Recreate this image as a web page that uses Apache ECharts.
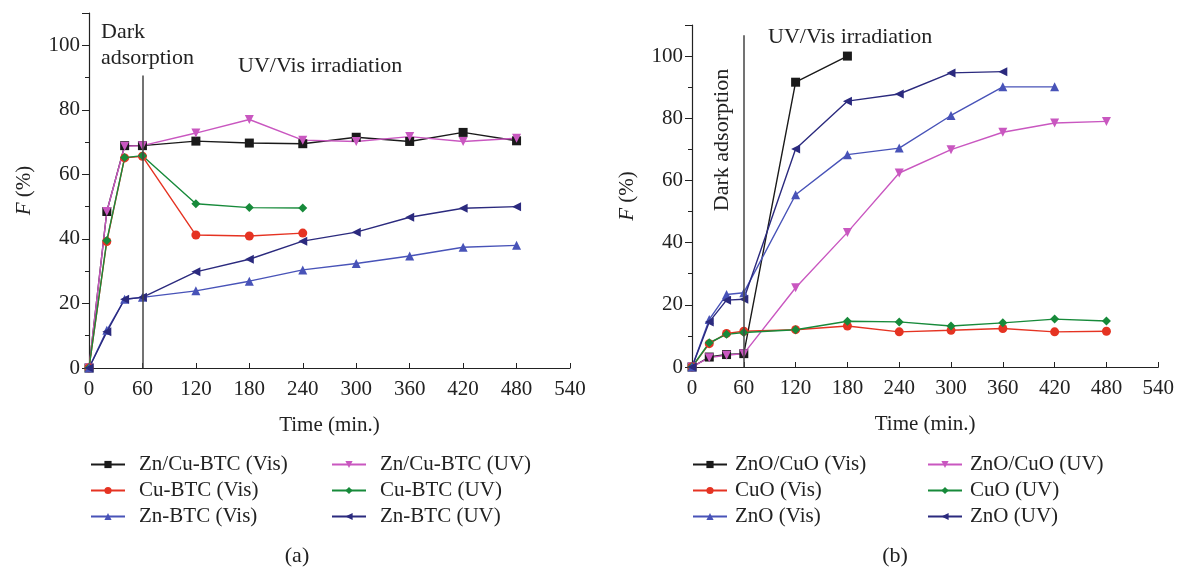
<!DOCTYPE html>
<html>
<head>
<meta charset="utf-8">
<title>Degradation efficiency vs time</title>
<script src="https://cdn.jsdelivr.net/npm/echarts@6/dist/echarts.min.js"></script>
<style>
  html, body { margin: 0; padding: 0; background: #fff; }
  #chart { width: 1177px; height: 567px; }
</style>
</head>
<body>
<div id="chart"></div>
<script>
// Sampling times (min.)
const times = [0, 20, 40, 60, 120, 180, 240, 300, 360, 420, 480];
const xTicks = [0, 60, 120, 180, 240, 300, 360, 420, 480, 540];

// Panel (a): MOF photocatalysts, F (%)
const znCuBtcVis = [0, 48.5, 68.9, 68.9, 70.3, 69.7, 69.5, 71.5, 70.2, 73.0, 70.4];
const znCuBtcUV  = [0, 48.5, 68.7, 68.9, 72.8, 77.0, 70.6, 70.2, 71.7, 70.2, 71.2];
const cuBtcVis   = [0, 39.2, 65.1, 65.6, 41.2, 40.9, 41.8];
const cuBtcUV    = [0, 39.5, 65.2, 65.8, 50.9, 49.7, 49.6];
const znBtcVis   = [0, 11.7, 21.3, 21.9, 23.9, 26.9, 30.4, 32.4, 34.7, 37.4, 38.0];
const znBtcUV    = [0, 11.2, 21.3, 21.9, 29.8, 33.7, 39.3, 42.1, 46.7, 49.5, 50.0];

// Panel (b): oxide photocatalysts, F (%)
const znoCuoVis = [0, 3.2, 4.0, 4.3, 91.6, 100];
const znoCuoUV  = [0, 3.0, 3.8, 4.3, 25.5, 43.3, 62.4, 69.9, 75.5, 78.5, 79.0];
const cuoVis    = [0, 7.5, 10.8, 11.5, 12.0, 13.2, 11.3, 11.8, 12.4, 11.3, 11.5];
const cuoUV     = [0, 7.8, 10.5, 11.1, 12.0, 14.7, 14.5, 13.2, 14.2, 15.4, 14.8];
const znoVis    = [0, 15.3, 23.3, 23.9, 55.4, 68.3, 70.4, 80.9, 90.1, 90.1];
const znoUV     = [0, 14.5, 21.5, 21.8, 70.1, 85.5, 87.8, 94.6, 95.0];

// End of the dark-adsorption period and the marker line heights
const darkEnd = 60;
const darkLineTopA = 90.6;
const darkLineTopB = 106.7;

const serif = '"Liberation Serif", "DejaVu Serif", serif';
const FS = 21;
const C = {
  black: '#1a1a1a', magenta: '#c957c0', red: '#e53322',
  green: '#178a3a', blue: '#4853b8', navy: '#2b2a7e'
};

const pairs = (ys) => ys.map((y, i) => [times[i], y]);

function mkSeries(name, ys, color, symbol, rotate, gridIdx) {
  return {
    name: name, type: 'line',
    xAxisIndex: gridIdx, yAxisIndex: gridIdx,
    data: pairs(ys),
    symbol: symbol, symbolSize: 9, symbolRotate: rotate,
    lineStyle: { color: color, width: 1.4 },
    itemStyle: { color: color },
    emphasis: { disabled: true },
    animation: false
  };
}

function darkLine(top) {
  return {
    silent: true, symbol: 'none', animation: false,
    lineStyle: { color: '#444', width: 1.5, type: 'solid' },
    label: { show: false },
    data: [[{ coord: [darkEnd, 0] }, { coord: [darkEnd, top] }]]
  };
}

function xAxis(gridIdx) {
  return {
    type: 'value', gridIndex: gridIdx, min: 0, max: 540, interval: 60,
    name: 'Time (min.)', nameLocation: 'middle', nameGap: 47,
    nameTextStyle: { fontFamily: serif, fontSize: FS, color: '#222' },
    axisLine: { show: true, onZero: false, lineStyle: { color: '#222', width: 1.2 } },
    axisTick: { show: true, inside: true, length: 5, lineStyle: { color: '#222' } },
    axisLabel: { fontFamily: serif, fontSize: FS, color: '#222', margin: 11 },
    splitLine: { show: false }
  };
}

function yAxis(gridIdx) {
  return {
    type: 'value', gridIndex: gridIdx, min: 0, max: 110, interval: 20,
    name: '{i|F} (%)', nameLocation: 'middle', nameGap: 54, nameRotate: 90,
    nameTextStyle: {
      fontFamily: serif, fontSize: FS, color: '#222',
      rich: { i: { fontFamily: serif, fontSize: FS, fontStyle: 'italic', color: '#222' } }
    },
    axisLine: { show: true, lineStyle: { color: '#222', width: 1.2 } },
    axisTick: { show: true, length: 7, lineStyle: { color: '#222' } },
    minorTick: { show: true, splitNumber: 2, length: 4, lineStyle: { color: '#222' } },
    axisLabel: {
      fontFamily: serif, fontSize: FS, color: '#222', margin: 9,
      formatter: (v) => (v % 20 === 0 && v <= 100 ? String(v) : '')
    },
    splitLine: { show: false }, minorSplitLine: { show: false }
  };
}

function legendCol(names, left, textPad) {
  return {
    orient: 'vertical', left: left, top: 454, padding: 0,
    itemWidth: 34, itemHeight: 9, itemGap: 5,
    selectedMode: false,
    textStyle: { fontFamily: serif, fontSize: FS, color: '#222', lineHeight: 21, padding: [0, 0, 0, textPad] },
    data: names
  };
}

const sA = [
  mkSeries('Zn/Cu-BTC (Vis)', znCuBtcVis, C.black, 'rect', 0, 0),
  mkSeries('Zn/Cu-BTC (UV)', znCuBtcUV, C.magenta, 'triangle', 180, 0),
  mkSeries('Cu-BTC (Vis)', cuBtcVis, C.red, 'circle', 0, 0),
  mkSeries('Cu-BTC (UV)', cuBtcUV, C.green, 'diamond', 0, 0),
  mkSeries('Zn-BTC (Vis)', znBtcVis, C.blue, 'triangle', 0, 0),
  mkSeries('Zn-BTC (UV)', znBtcUV, C.navy, 'triangle', 90, 0)
];
sA[0].markLine = darkLine(darkLineTopA);

const sB = [
  mkSeries('ZnO/CuO (Vis)', znoCuoVis, C.black, 'rect', 0, 1),
  mkSeries('ZnO/CuO (UV)', znoCuoUV, C.magenta, 'triangle', 180, 1),
  mkSeries('CuO (Vis)', cuoVis, C.red, 'circle', 0, 1),
  mkSeries('CuO (UV)', cuoUV, C.green, 'diamond', 0, 1),
  mkSeries('ZnO (Vis)', znoVis, C.blue, 'triangle', 0, 1),
  mkSeries('ZnO (UV)', znoUV, C.navy, 'triangle', 90, 1)
];
sB[0].markLine = darkLine(darkLineTopB);

const textStyleBase = { fontFamily: serif, fontSize: 22, fill: '#222' };

const chart = echarts.init(document.getElementById('chart'), null, { renderer: 'canvas' });
chart.setOption({
  backgroundColor: '#fff',
  animation: false,
  grid: [
    { left: 89, right: 607, top: 13, bottom: 199 },
    { left: 692, right: 17, top: 25, bottom: 200 }
  ],
  xAxis: [xAxis(0), xAxis(1)],
  yAxis: [yAxis(0), yAxis(1)],
  legend: [
    legendCol(['Zn/Cu-BTC (Vis)', 'Cu-BTC (Vis)', 'Zn-BTC (Vis)'], 90, 9),
    legendCol(['Zn/Cu-BTC (UV)', 'Cu-BTC (UV)', 'Zn-BTC (UV)'], 331, 9),
    legendCol(['ZnO/CuO (Vis)', 'CuO (Vis)', 'ZnO (Vis)'], 692, 3),
    legendCol(['ZnO/CuO (UV)', 'CuO (UV)', 'ZnO (UV)'], 927, 3)
  ],
  graphic: [
    { type: 'text', left: 101, top: 19, silent: true,
      style: Object.assign({ text: 'Dark\nadsorption', lineHeight: 26 }, textStyleBase) },
    { type: 'text', left: 238, top: 55, silent: true,
      style: Object.assign({ text: 'UV/Vis irradiation' }, textStyleBase) },
    { type: 'text', left: 768, top: 26, silent: true,
      style: Object.assign({ text: 'UV/Vis irradiation' }, textStyleBase) },
    { type: 'text', x: 722, y: 140, rotation: Math.PI / 2, silent: true,
      style: Object.assign({ text: 'Dark adsorption', align: 'center', verticalAlign: 'middle' }, textStyleBase) },
    { type: 'text', x: 297, y: 556, silent: true,
      style: Object.assign({ text: '(a)', align: 'center', verticalAlign: 'middle' }, textStyleBase) },
    { type: 'text', x: 895, y: 556, silent: true,
      style: Object.assign({ text: '(b)', align: 'center', verticalAlign: 'middle' }, textStyleBase) }
  ],
  series: sA.concat(sB)
});
</script>
</body>
</html>
